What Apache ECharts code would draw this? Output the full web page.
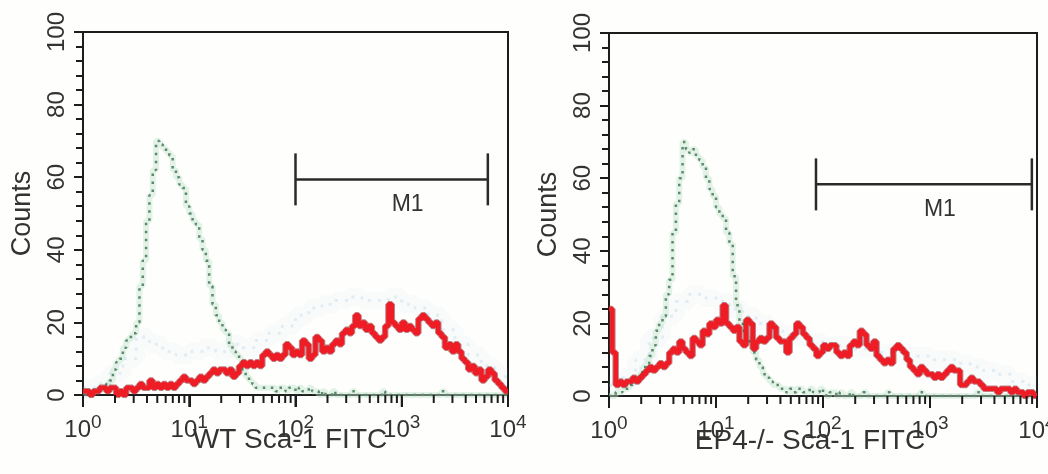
<!DOCTYPE html>
<html>
<head>
<meta charset="utf-8">
<script src="https://cdn.jsdelivr.net/npm/echarts@6/dist/echarts.min.js"></script>
<style>
  html, body { margin: 0; padding: 0; background: #fefefc; }
  #chart { width: 1048px; height: 474px; }
</style>
</head>
<body>
<div id="chart"></div>
<script>
// Sca-1 FITC histograms, 32 channels per decade over 10^0 .. 10^4 (128 channels).
const CHANNELS_PER_DECADE = 32;

// WT: Sca-1 stained cells (red)
const wtSample = [
  1,1,0,1,1, 2,2,1,2,2, 0,1,0, 2,2,1,2,3,2,2, 4,2,3,2,3, 2,3,2,3, 4,5,4,
  4,3,4, 5,4,5, 6,7,6,7, 7,6,7, 5,6, 8,9,8,9,8,9,8, 11,12, 11,10,11,10,11, 14,13, 11,
  12,11, 15,14, 10,11, 16,15, 12,13,12, 14,15,14, 17,18,17, 19,22, 19,20,18,19, 17,16,15,16, 19, 25, 20, 19,18,
  20,18,19, 18,17, 21,22,21, 20,19,20, 17,16, 13,14,12, 14,12, 10,9, 7,8,6,7, 4,5, 7,6, 4,3, 2,1
];
// WT: control (green, dotted)
const wtControl = [
  0,1,0,1,1,2,2,3, 4,7,9,10,13,15, 16,17,20,30,37,48,55,62,
  70,69,68,67,66,62,60,58, 57,52,50,48,47,43,40,37, 30,25,22,20,18,17,14,12, 11,10,7,5,4,3,
  2,2,2,2,2,2,1,2,2,1,2,2,1,2,1,1,2,1,1,0,1,
  0,0,1,0,0,0,0,0,1,0,0,0,0,0,0,0,0,1,0,0,0,0,0,0,0,0,0,0,
  0,0,0,0,0,0,0,1,0,0,0,0,0,0,0,0,0,0,0,0,0,0,0,0,0,0,0
];
// EP4-/-: Sca-1 stained cells (red)
const ep4Sample = [
  24,12, 3,4,3,4,4, 5,4,5, 6,7, 8,7,8, 9,8,9, 12,13,12, 15,13,12, 11,16, 15,14, 18,17, 20,19,
  21,20, 25, 20,19, 18,19, 15,14, 21, 20, 13,15, 16,15,16, 20,19, 16,15,15, 12, 16,17, 20,19, 17,16, 14,13, 11,12,
  14,13,14,14, 12,11,12,11, 14,15,14, 18,17, 14,13, 15,11, 10,9,10,9, 13,14,13, 12,10, 8,7,6,8,7,6,
  6,5,6,5,6, 7,8,7,7, 3,3, 4,5,4,4, 3,2,2, 2,2,1,2,2,2,1,2, 1,1,0,1,1,0
];
// EP4-/-: control (green, dotted)
const ep4Control = [
  0,0,1,1,2,2,3,4, 5,6,8,9,11,14, 18,20,22,28,32,45,53,60,
  70,68,67,68,66,65,63,60, 57,55,52,50,49,45,42,33, 25,20,18,16,15,12,10,8, 6,5,4,3,3,
  2,2,1,2,1,2,2,1,1,2,1,1,2,1,0,1,1,0,1,0,0,1,
  0,0,0,1,0,0,0,0,0,0,1,0,0,0,0,0,0,0,0,0,1,0,0,0,0,0,0,0,
  0,0,0,0,0,0,0,0,0,1,0,0,0,0,0,0,0,0,0,0,0,0,0,0,0,0,0
];

// Faint background overlay (light blue), 8 channels per decade.
const BG_CHANNELS_PER_DECADE = 8;
const wtBackground = [2,3,6,10,16,14,12,11, 12,13,12,14,13,15,17,19, 22,24,25,26,27,26,26,27, 25,24,22,18,14,11,8,5];
const ep4Background = [3,5,10,16,22,26,28,27, 26,24,22,20,18,17,16,15, 14,14,13,13,12,12,11,11, 10,10,9,8,7,6,4,3];

// M1 marker: [low, high, level]
const wtGate = [100, 6460, 59.4];
const ep4Gate = [86, 8950, 58.3];
const gateLabel = 'M1';

const panelNames = ['WT Sca-1 FITC', 'EP4-/- Sca-1 FITC'];
const yName = 'Counts';

const FONT = '"Liberation Sans", Arial, Helvetica, sans-serif';
const INK = '#1c1c1c';
const TEXT = '#333333';

function toSteps(values, perDecade) {
  const pts = values.map((v, k) => [Math.pow(10, k / perDecade), v]);
  pts.push([Math.pow(10, values.length / perDecade), values[values.length - 1]]);
  return pts;
}

// x tick marks: decades (major) and 2..9 of every decade (minor)
const xTickMarks = [];
for (let d = 0; d <= 4; d++) {
  xTickMarks.push({ value: Math.pow(10, d), major: true });
  if (d < 4) for (let m = 2; m <= 9; m++) xTickMarks.push({ value: m * Math.pow(10, d), major: false });
}

const grids = [
  { left: 83, top: 32, width: 425, height: 363 },
  { left: 609, top: 33, width: 428, height: 363 }
].map(b => Object.assign(b, {
  show: true, borderColor: INK, borderWidth: 2, backgroundColor: 'transparent',
  containLabel: false, outerBoundsMode: 'none'
}));

// title shift (right padding moves the centred name left)
const namePadRight = [11, 26];

const xAxes = panelNames.map((name, i) => ({
  type: 'log', logBase: 10, min: 1, max: 10000, gridIndex: i,
  name: name, nameLocation: 'middle', nameGap: 31, nameMoveOverlap: false,
  nameTextStyle: { fontSize: 28, color: TEXT, fontFamily: FONT, padding: [0, namePadRight[i], 0, 0] },
  axisLine: { show: true, onZero: false, lineStyle: { color: INK, width: 2 } },
  axisTick: { show: true, inside: false, length: 12, lineStyle: { color: INK, width: 2 } },
  splitLine: { show: false },
  axisLabel: {
    margin: 18,
    showMinLabel: true, showMaxLabel: true,
    formatter: v => '{b|10}{s|' + Math.round(Math.log10(v)) + '}',
    rich: {
      b: { fontSize: 24, lineHeight: 34, color: TEXT, fontFamily: FONT },
      s: { fontSize: 19, lineHeight: 22, verticalAlign: 'top', color: TEXT, fontFamily: FONT }
    }
  }
}));

const yAxes = panelNames.map((_, i) => ({
  type: 'value', gridIndex: i, min: 0, max: 100, interval: 20,
  name: yName, nameLocation: 'middle', nameGap: 47, nameMoveOverlap: false,
  nameTextStyle: { fontSize: 27, color: TEXT, fontFamily: FONT },
  axisLine: { show: true, lineStyle: { color: INK, width: 2 } },
  axisTick: { show: true, length: 9, lineStyle: { color: INK, width: 2 } },
  minorTick: { show: true, splitNumber: 5, length: 7, lineStyle: { color: INK, width: 2 } },
  splitLine: { show: false },
  axisLabel: { rotate: 90, margin: 14, fontSize: 24, color: TEXT, fontFamily: FONT }
}));

function panelSeries(i, sample, control, background, gate) {
  const ax = { xAxisIndex: i, yAxisIndex: i };
  const line = (data, style, z) => Object.assign({
    type: 'line', step: 'end', data: data, symbol: 'none', silent: true,
    lineStyle: style, z: z
  }, ax);
  const bg = toSteps(background, BG_CHANNELS_PER_DECADE);
  const ctl = toSteps(control, CHANNELS_PER_DECADE);
  const smp = toSteps(sample, CHANNELS_PER_DECADE);
  return [
    line(bg, { color: 'rgba(170,208,238,0.06)', width: 18 }, 1),
    line(bg, { color: 'rgba(135,185,225,0.22)', width: 3, type: [3, 7] }, 2),
    line(ctl, { color: 'rgba(195,228,205,0.45)', width: 6 }, 3),
    line(ctl, { color: '#5c8a6c', width: 2.5, type: [2.5, 5.5] }, 4),
    line(smp, { color: 'rgba(140,30,40,0.55)', width: 6.5 }, 5),
    line(smp, { color: '#ee1c24', width: 4.5 }, 6),
    Object.assign({
      type: 'custom', silent: true, clip: false, z: 9, data: [gate],
      encode: { x: [0, 1], y: 2 },
      renderItem: (params, api) => {
        const a = api.coord([api.value(0), api.value(2)]);
        const b = api.coord([api.value(1), api.value(2)]);
        const s = { stroke: '#2a2a2a', lineWidth: 2.5 };
        return {
          type: 'group', children: [
            { type: 'line', shape: { x1: a[0], y1: a[1], x2: b[0], y2: b[1] }, style: s },
            { type: 'line', shape: { x1: a[0], y1: a[1] - 26, x2: a[0], y2: a[1] + 26 }, style: s },
            { type: 'line', shape: { x1: b[0], y1: b[1] - 26, x2: b[0], y2: b[1] + 26 }, style: s },
            { type: 'text', x: (a[0] + b[0]) / 2 + 16, y: a[1] + 25,
              style: { text: gateLabel, fill: TEXT, font: '23px ' + FONT, align: 'center', verticalAlign: 'middle' } }
          ]
        };
      }
    }, ax)
  ];
}

const chart = echarts.init(document.getElementById('chart'), null, { renderer: 'canvas' });
chart.setOption({
  backgroundColor: '#fefefc',
  animation: false,
  grid: grids,
  xAxis: xAxes,
  yAxis: yAxes,
  series: [
    ...panelSeries(0, wtSample, wtControl, wtBackground, wtGate),
    ...panelSeries(1, ep4Sample, ep4Control, ep4Background, ep4Gate)
  ]
});

// log tick marks under each x axis, placed through the axis scale
const tickGraphics = [];
panelNames.forEach((_, i) => {
  xTickMarks.forEach(t => {
    const p = chart.convertToPixel({ gridIndex: i }, [t.value, 0]);
    if (!p) return;
    const len = t.major ? 12 : 8;
    tickGraphics.push({
      type: 'line', silent: true, z: 100,
      shape: { x1: p[0], y1: p[1], x2: p[0], y2: p[1] + len },
      style: { stroke: INK, lineWidth: 2 }
    });
  });
});
chart.setOption({ graphic: { elements: tickGraphics } });
</script>
</body>
</html>
